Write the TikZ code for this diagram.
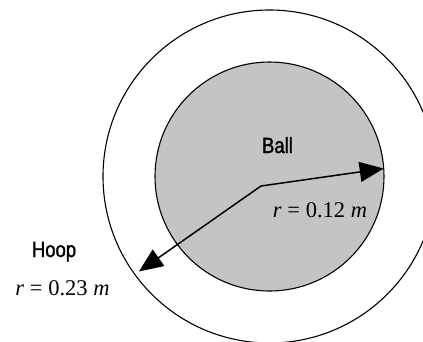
\documentclass[tikz,border=0pt]{standalone}
\usepackage{fontspec}
\setmainfont{Liberation Serif}
\newfontfamily\narrowsans[FakeStretch=0.84, FakeBold=1.5]{Liberation Sans}
\usetikzlibrary{arrows.meta, positioning}
\definecolor{ballgray}{HTML}{C4C4C4}

\begin{document}
\begin{tikzpicture}[x=1pt, y=-1pt,
  disc/.style={circle, draw, line width=1.1pt, inner sep=0pt, outer sep=0pt},
  lbl/.style={font=\fontsize{22}{24}\selectfont\narrowsans, inner sep=1pt, anchor=base},
  val/.style={font=\fontsize{22.5}{25}\selectfont\rmfamily, inner sep=1pt, anchor=base},
  arr/.style={-{Triangle[length=24pt, width=20pt]}, line width=1.5pt},
]
  \useasboundingbox (0,0) rectangle (423,341);
  \clip (0,0) rectangle (423,341);
  \node[disc, minimum size=333pt] (hoop) at (269.5,176.5) {};
  \node[disc, minimum size=229pt, fill=ballgray] (ball) at (269.5,176.5) {};
  \coordinate (mid) at (261,186);

  % labels
  \node[lbl] (balltxt) at (277.5,153) {Ball};
  \node[val] (rball) at (320,217) {\textit{r} = 0.12 \textit{m}};
  \node[lbl] (hooptxt) at (54,257) {Hoop};
  \node[val] (rhoop) at (62.5,295) {\textit{r} = 0.23 \textit{m}};

  \draw[arr] (mid) -- (ball.4.3);
  \draw[arr, shorten >=5pt] (mid) -- (hoop.216.4);
\end{tikzpicture}
\end{document}
